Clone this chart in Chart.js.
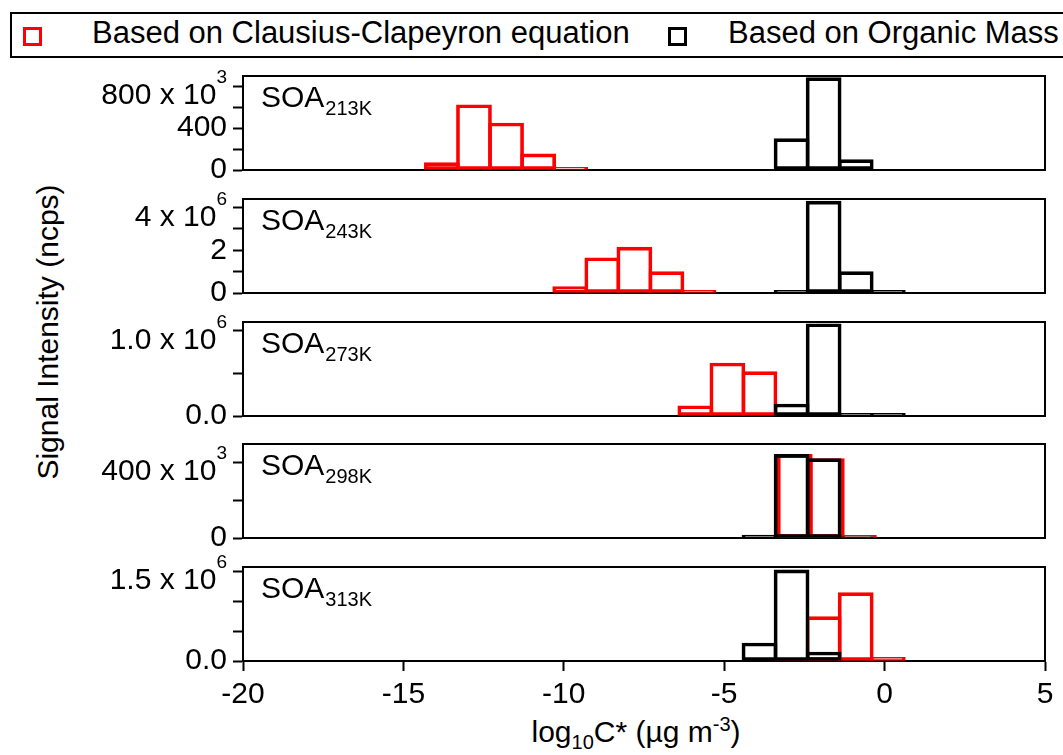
<!DOCTYPE html>
<html>
<head>
<meta charset="utf-8">
<script src="https://cdn.jsdelivr.net/npm/chart.js@4.4.1/dist/chart.umd.min.js"></script>
<style>
  body { margin: 0; background: #fff; width: 1063px; height: 755px; overflow: hidden; position: relative;
         font-family: "Liberation Sans", Arial, sans-serif; color: #000; }
  canvas { position: absolute; left: 0; }
  #legend { position: absolute; left: 10px; top: 12px; width: 1100px; height: 46px; border: 2px solid #000; box-sizing: border-box; }
  .sq { position: absolute; width: 19px; height: 19px; box-sizing: border-box; border: 3px solid #000; top: 13px; }
  .txt { position: absolute; top: 1px; font-size: 31px; line-height: 36px; white-space: nowrap; }
  #ytitle { position: absolute; left: -112px; top: 314px; width: 320px; height: 36px; line-height: 36px; font-size: 30px;
            text-align: center; transform: rotate(-90deg); white-space: nowrap; }
  #xtitle { position: absolute; left: 436px; top: 714px; width: 400px; font-size: 30px; line-height: 36px; text-align: center; white-space: nowrap; }
  #xtitle sub, #xtitle sup { font-size: 20px; line-height: 0; }
</style>
</head>
<body>
<div id="legend">
  <span class="sq" style="left:11px;border-color:#ff0000"></span>
  <span class="txt" style="left:80px">Based on Clausius-Clapeyron equation</span>
  <span class="sq" style="left:656px"></span>
  <span class="txt" style="left:716px">Based on Organic Mass</span>
</div>
<div id="ytitle">Signal Intensity (ncps)</div>
<div id="xtitle">log<sub>10</sub>C* (µg m<sup>-3</sup>)</div>

<canvas id="p0" width="1063" height="158"></canvas>
<canvas id="p1" width="1063" height="158"></canvas>
<canvas id="p2" width="1063" height="158"></canvas>
<canvas id="p3" width="1063" height="158"></canvas>
<canvas id="p4" width="1063" height="194"></canvas>

<script>
/* x axis: log10 C* */
const xMin = -20, xMax = 5;
const xTicks = [-20, -15, -10, -5, 0, 5];

const panelNames = ['213K', '243K', '273K', '298K', '313K'];

/* Red: Clausius-Clapeyron equation (bin centers / signal) */
const ccX213 = [-13.8, -12.8, -11.8, -10.8, -9.8];
const ccY213 = [70e3, 625e3, 450e3, 155e3, 25e3];
const ccX243 = [-9.8, -8.8, -7.8, -6.8, -5.8];
const ccY243 = [0.3e6, 1.65e6, 2.15e6, 1.0e6, 0.12e6];
const ccX273 = [-5.9, -4.9, -3.9];
const ccY273 = [0.12e6, 0.62e6, 0.52e6];
const ccX298 = [-2.8, -1.8, -0.8];
const ccY298 = [440e3, 418e3, 14e3];
const ccX313 = [-2.9, -1.9, -0.9, 0.1];
const ccY313 = [0.03e6, 0.74e6, 1.14e6, 0.06e6];

/* Black: organic mass */
const omX213 = [-2.9, -1.9, -0.9];
const omY213 = [300e3, 885e3, 100e3];
const omX243 = [-2.9, -1.9, -0.9, 0.1];
const omY243 = [0.12e6, 4.3e6, 1.0e6, 0.12e6];
const omX273 = [-2.9, -1.9, -0.9, 0.1];
const omY273 = [0.14e6, 1.08e6, 0.03e6, 0.03e6];
const omX298 = [-3.9, -2.9, -1.9, -0.9];
const omY298 = [16e3, 440e3, 418e3, 8e3];
const omX313 = [-3.9, -2.9, -1.9];
const omY313 = [0.3e6, 1.52e6, 0.15e6];

/* y axes */
const yMax = [900e3, 4.4e6, 1.1e6, 495e3, 1.567e6];
const yTickValues = [
  [0, 200e3, 400e3, 600e3, 800e3],
  [0, 1e6, 2e6, 3e6, 4e6],
  [0, 0.5e6, 1e6],
  [0, 200e3, 400e3],
  [0, 0.5e6, 1e6, 1.5e6]
];
const yTickLabels = [
  ['0', '', '400', '', '800 x 10'],
  ['0', '', '2', '', '4 x 10'],
  ['0.0', '', '1.0 x 10'],
  ['0', '', '400 x 10'],
  ['0.0', '', '', '1.5 x 10']
];
const yExponents = ['3', '6', '6', '3', '6'];

const ccX = [ccX213, ccX243, ccX273, ccX298, ccX313];
const ccY = [ccY213, ccY243, ccY273, ccY298, ccY313];
const omX = [omX213, omX243, omX273, omX298, omX313];
const omY = [omY213, omY243, omY273, omY298, omY313];

const panelTops = [76, 199, 322, 444, 567];
const lineW = 3;
const fontFam = '"Liberation Sans", Arial, sans-serif';

Chart.defaults.font.family = fontFam;
Chart.defaults.font.size = 30;
Chart.defaults.color = '#000';

// frame under the bars, then SOA label and top tick label with exponent
const panelExtras = {
  id: 'panelExtras',
  beforeDatasetsDraw(chart) {
    const {ctx, chartArea: a} = chart;
    ctx.save();
    ctx.strokeStyle = '#000';
    ctx.lineWidth = 2;
    ctx.strokeRect(a.left, a.top, a.right - a.left, a.bottom - a.top);
    ctx.restore();
  },
  afterDraw(chart, args, opts) {
    const {ctx, chartArea: a} = chart;
    const y = chart.scales.y;
    ctx.save();
    const ticks = yTickValues[opts.i];
    const top = ticks[ticks.length - 1];
    const ty = y.getPixelForValue(top);
    const right = a.left - 16;
    ctx.fillStyle = '#000';
    ctx.textAlign = 'right';
    ctx.textBaseline = 'alphabetic';
    ctx.font = '19px ' + fontFam;
    const ew = ctx.measureText(yExponents[opts.i]).width;
    ctx.fillText(yExponents[opts.i], right, ty - 3);
    ctx.font = '30px ' + fontFam;
    ctx.fillText(yTickLabels[opts.i][ticks.length - 1], right - ew, ty + 18);

    ctx.textAlign = 'left';
    ctx.font = '30px ' + fontFam;
    ctx.fillText('SOA', a.left + 18, a.top + 31);
    const w = ctx.measureText('SOA').width;
    ctx.font = '20px ' + fontFam;
    ctx.fillText(panelNames[opts.i], a.left + 18 + w + 1, a.top + 39);
    ctx.restore();
  }
};

function makeData(xs, ys) {
  return xs.map((x, k) => ({x: x, y: ys[k]}));
}

/* one bin = 1 unit; the extra line width makes neighbouring outlines share one edge */
function binWidth(c) {
  const w = c.chart.chartArea ? c.chart.chartArea.width / (xMax - xMin) : 32;
  return w + lineW;
}

function crearPanel(i) {
  const last = i === 4;
  const canvas = document.getElementById('p' + i);
  canvas.style.top = (panelTops[i] - 40) + 'px';

  new Chart(canvas, {
    type: 'bar',
    data: {
      datasets: [
        {
          label: 'Based on Clausius-Clapeyron equation',
          data: makeData(ccX[i], ccY[i]),
          borderColor: '#ff0000',
          backgroundColor: 'rgba(0,0,0,0)',
          borderWidth: lineW,
          borderSkipped: false,
          grouped: false,
          barThickness: binWidth,
          order: 1
        },
        {
          label: 'Based on Organic Mass',
          data: makeData(omX[i], omY[i]),
          borderColor: '#000',
          backgroundColor: 'rgba(0,0,0,0)',
          borderWidth: lineW,
          borderSkipped: false,
          grouped: false,
          barThickness: binWidth,
          order: 0
        }
      ]
    },
    options: {
      responsive: false,
      animation: false,
      devicePixelRatio: 1,
      layout: { padding: { top: 40, bottom: last ? 0 : 24, left: 0, right: 18 } },
      plugins: {
        legend: { display: false },
        tooltip: { enabled: false },
        panelExtras: { i: i }
      },
      scales: {
        x: {
          type: 'linear',
          display: last,
          min: xMin,
          max: xMax,
          offset: false,
          afterBuildTicks: s => { s.ticks = xTicks.map(v => ({value: v})); },
          afterFit: s => { if (last) s.height = 60; },
          ticks: { padding: 6, autoSkip: false, maxRotation: 0 },
          grid: { offset: false, drawOnChartArea: false, tickLength: 10, tickColor: '#000', tickWidth: 2 },
          border: { color: '#000', width: 2 }
        },
        y: {
          min: 0,
          max: yMax[i],
          afterBuildTicks: s => { s.ticks = yTickValues[i].map(v => ({value: v})); },
          afterFit: s => { s.width = 243; },
          ticks: {
            padding: 6,
            autoSkip: false,
            callback: (v, k) => (k === yTickValues[i].length - 1 ? '' : yTickLabels[i][k])
          },
          grid: { drawOnChartArea: false, tickLength: 10, tickColor: '#000', tickWidth: 2 },
          border: { color: '#000', width: 2 }
        }
      }
    },
    plugins: [panelExtras]
  });
}

for (let i = 0; i < 5; i++) {
  crearPanel(i);
}
</script>
</body>
</html>
